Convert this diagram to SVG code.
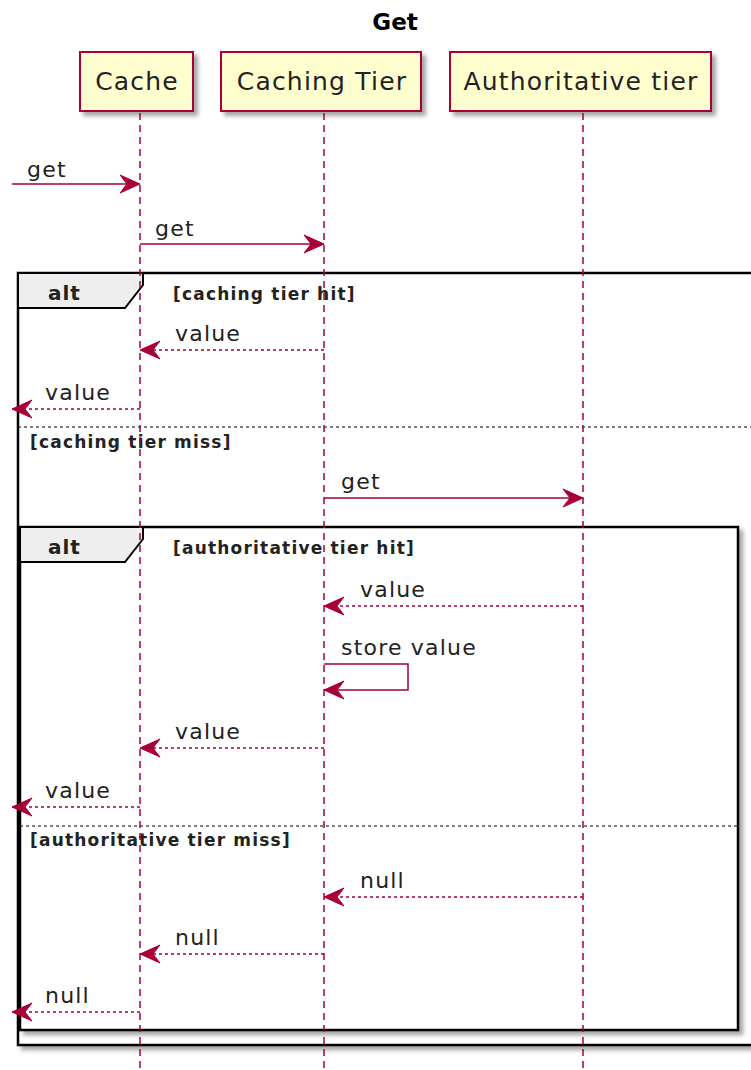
<svg xmlns="http://www.w3.org/2000/svg" width="751" height="1070" viewBox="0 0 751 1070">
<style>
.title{font-family:"DejaVu Sans",sans-serif;font-weight:bold;font-size:23px;fill:#000}
.part{fill:#FEFECE;stroke:#A80036;stroke-width:2}
.ptxt{font-family:"DejaVu Sans",sans-serif;font-size:25px;fill:#222;letter-spacing:1.2px}
.life{stroke:#A80036;stroke-width:1.5;stroke-dasharray:7,5;fill:none}
.msg{stroke:#A80036;stroke-width:1.5;fill:none;marker-end:url(#arr)}
.ret{stroke-dasharray:3,3}
.mtxt{font-family:"DejaVu Sans",sans-serif;font-size:22px;fill:#222;letter-spacing:1.2px}
.frame{fill:#fff;stroke:#000;stroke-width:2.5}
.tab{fill:#EEEEEE;stroke:#000;stroke-width:2}
.alt{font-family:"DejaVu Sans",sans-serif;font-weight:bold;font-size:20px;fill:#222;letter-spacing:1px}
.guard{font-family:"DejaVu Sans",sans-serif;font-weight:bold;font-size:17px;fill:#222;letter-spacing:1.2px}
.sep{stroke:#000;stroke-width:1;stroke-dasharray:3,3}
</style>
<defs>
<filter id="sh" x="-10%" y="-10%" width="130%" height="140%">
<feDropShadow dx="4" dy="4" stdDeviation="2" flood-color="#000" flood-opacity="0.35"/>
</filter>
<marker id="arr" markerUnits="userSpaceOnUse" markerWidth="24" markerHeight="22" viewBox="-22 -11 24 22" refX="0" refY="0" orient="auto">
<path d="M0,0 L-20,-9 L-13,0 L-20,9 Z" fill="#A80036" stroke="#A80036" stroke-width="1"/>
</marker>
</defs>
<rect width="751" height="1070" fill="#fff"/>
<text class="title" x="395" y="30" text-anchor="middle">Get</text>

<g id="cache">
<rect class="part" x="80" y="52" width="113" height="59" filter="url(#sh)"/>
<text class="ptxt" x="137" y="90" text-anchor="middle">Cache</text>
</g>
<g id="caching-tier">
<rect class="part" x="221" y="52" width="200" height="59" filter="url(#sh)"/>
<text class="ptxt" x="322" y="90" text-anchor="middle">Caching Tier</text>
</g>
<g id="authoritative-tier">
<rect class="part" x="450" y="52" width="261" height="59" filter="url(#sh)"/>
<text class="ptxt" x="581" y="90" text-anchor="middle">Authoritative tier</text>
</g>

<g id="alt-outer">
<rect class="frame" x="18" y="273" width="760" height="772" filter="url(#sh)"/>
<path class="tab" d="M18,273 H143 V285 L125,308 H18 Z"/>
<text class="alt" x="48" y="300">alt</text>
<text class="guard" x="173" y="300">[caching tier hit]</text>
<line class="sep" x1="18" y1="427" x2="751" y2="427"/>
<text class="guard" x="30" y="448">[caching tier miss]</text>
</g>

<g id="alt-inner">
<rect class="frame" x="20" y="527" width="718" height="503" filter="url(#sh)"/>
<path class="tab" d="M20,527 H143 V539 L125,562 H20 Z"/>
<text class="alt" x="48" y="554">alt</text>
<text class="guard" x="173" y="554">[authoritative tier hit]</text>
<line class="sep" x1="20" y1="826" x2="738" y2="826"/>
<text class="guard" x="30" y="846">[authoritative tier miss]</text>
</g>

<g id="lifelines">
<line class="life" x1="140" y1="113" x2="140" y2="1070"/>
<line class="life" x1="324" y1="113" x2="324" y2="1070"/>
<line class="life" x1="583" y1="113" x2="583" y2="1070"/>
</g>

<g id="connectors">
<line class="msg" x1="12" y1="184" x2="140" y2="184"/>
<text class="mtxt" x="27" y="177">get</text>
<line class="msg" x1="140" y1="244" x2="324" y2="244"/>
<text class="mtxt" x="155" y="236">get</text>
<line class="msg ret" x1="324" y1="350" x2="140" y2="350"/>
<text class="mtxt" x="175" y="341">value</text>
<line class="msg ret" x1="140" y1="409" x2="12" y2="409"/>
<text class="mtxt" x="45" y="400">value</text>
<line class="msg" x1="324" y1="498" x2="583" y2="498"/>
<text class="mtxt" x="341" y="489">get</text>
<line class="msg ret" x1="583" y1="606" x2="324" y2="606"/>
<text class="mtxt" x="360" y="597">value</text>
<polyline class="msg" points="324,664 408,664 408,690 324,690"/>
<text class="mtxt" x="341" y="655">store value</text>
<line class="msg ret" x1="324" y1="748" x2="140" y2="748"/>
<text class="mtxt" x="175" y="739">value</text>
<line class="msg ret" x1="140" y1="807" x2="12" y2="807"/>
<text class="mtxt" x="45" y="798">value</text>
<line class="msg ret" x1="583" y1="897" x2="324" y2="897"/>
<text class="mtxt" x="360" y="888">null</text>
<line class="msg ret" x1="324" y1="954" x2="140" y2="954"/>
<text class="mtxt" x="175" y="945">null</text>
<line class="msg ret" x1="140" y1="1012" x2="12" y2="1012"/>
<text class="mtxt" x="45" y="1003">null</text>
</g>
</svg>
